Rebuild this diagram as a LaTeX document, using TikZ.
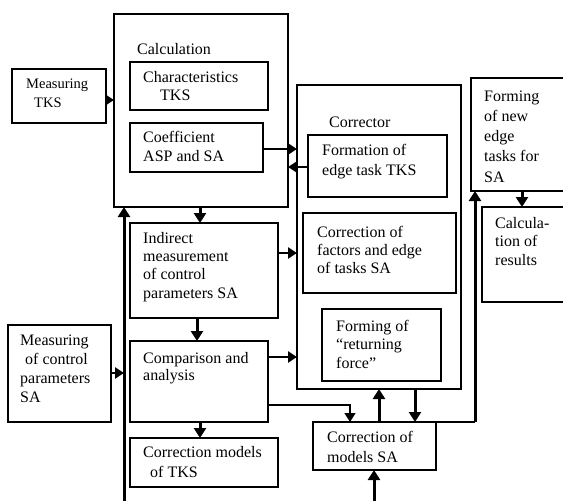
\documentclass[tikz,border=0pt]{standalone}
\usepackage{fontspec}
\setmainfont{Liberation Serif}
\usetikzlibrary{arrows.meta}
\begin{document}
\begin{tikzpicture}[x=1pt,y=-1pt,
  box/.style={draw=black,line width=1.4pt,anchor=north west,inner sep=0pt,outer sep=0pt},
  txt/.style={anchor=base west,inner sep=0pt,align=left,font=\fontsize{16}{18.5}\selectfont},
  arrh/.style={line width=2.8pt,-{Triangle[width=11pt,length=9pt]}},
  arrv/.style={line width=3pt,-{Triangle[width=12pt,length=10pt]}},
  arrt/.style={line width=1.4pt,-{Triangle[width=11pt,length=9pt]}},
  plain/.style={line width=1.4pt}]
\clip (0,0) rectangle (563,501);
\fill[white] (0,0) rectangle (563,501);
% boxes
\node[box,minimum width=94pt,minimum height=54pt] (mtks) at (12,69) {};
\node[box,minimum width=174pt,minimum height=193pt] (calc) at (114,14) {};
\node[box,minimum width=138pt,minimum height=48pt] (chr) at (130,62) {};
\node[box,minimum width=133pt,minimum height=49pt] (coef) at (130,123) {};
\node[box,minimum width=164pt,minimum height=304pt] (corr) at (297,85) {};
\node[box,minimum width=139pt,minimum height=62pt] (form) at (308,135) {};
\node[box,minimum width=153pt,minimum height=80pt] (cfac) at (303,213) {};
\node[box,minimum width=119pt,minimum height=72pt] (ret) at (322,309) {};
\node[box,minimum width=100pt,minimum height=113pt] (fnew) at (471,78) {};
\node[box,minimum width=90pt,minimum height=95pt] (cres) at (482,207) {};
\node[box,minimum width=148pt,minimum height=95pt] (ind) at (130,223) {};
\node[box,minimum width=138pt,minimum height=81pt] (cmp) at (130,341) {};
\node[box,minimum width=148pt,minimum height=49pt] (ctks) at (130,438) {};
\node[box,minimum width=103pt,minimum height=97pt] (mcp) at (8,325) {};
\node[box,minimum width=123pt,minimum height=48pt] (cms) at (313,422) {};
% texts (base = baseline of the last line)
\node[txt,font=\fontsize{14.5}{19}\selectfont] (tmtks) at (26,107) {Measuring\\\hspace*{8pt}TKS};
\node[txt] (tcalc) at (137,54) {Calculation};
\node[txt] (tchr) at (143,100.5) {Characteristics\\\hspace*{17pt}TKS};
\node[txt,font=\fontsize{16}{19}\selectfont] (tcoef) at (143,161) {Coefficient\\ASP and SA};
\node[txt] (tcorr) at (329,127) {Corrector};
\node[txt,font=\fontsize{16}{20}\selectfont] (tform) at (322,175) {Formation of\\edge task TKS};
\node[txt,font=\fontsize{16}{20.2}\selectfont] (tfnew) at (484,182) {Forming\\of new\\edge\\tasks for\\SA};
\node[txt] (tcres) at (495,265) {Calcula-\\tion of\\results};
\node[txt,font=\fontsize{16}{18.3}\selectfont] (tind) at (143,298) {Indirect\\measurement\\of control\\parameters SA};
\node[txt,font=\fontsize{16}{18}\selectfont] (tcfac) at (317,273) {Correction of\\factors and edge\\of tasks SA};
\node[txt] (tret) at (336,368) {Forming of\\“returning\\force”};
\node[txt,font=\fontsize{16}{19}\selectfont] (tmcp) at (20,402) {Measuring\\\hspace*{5pt}of control\\parameters\\SA};
\node[txt,font=\fontsize{16}{17.5}\selectfont] (tcmp) at (143,380.5) {Comparison and\\analysis};
\node[txt,font=\fontsize{16}{20}\selectfont] (tctks) at (143,477) {Correction models\\\hspace*{7pt}of TKS};
\node[txt,font=\fontsize{16}{20}\selectfont] (tcms) at (327,462) {Correction of\\models SA};
% connectors
\coordinate (busbot) at (124,501);
\coordinate (cmsbot) at (374,501);
\coordinate (bend) at (475,422);
\draw[arrh] (mtks.east |- 0,100) -- (calc.west |- 0,100);
\draw[arrh] (coef.east |- 0,149) -- (corr.west |- 0,149);
\draw[arrh] (form.west |- 0,167) -- (calc.east |- 0,167);
\draw[arrv] (calc.south -| 200,0) -- (ind.north -| 200,0);
\draw[arrv] (busbot) -- (busbot |- calc.south);
\draw[arrh] (mcp.east |- 0,373) -- (busbot |- 0,373);
\draw[arrh] (ind.east |- 0,253) -- (corr.west |- 0,253);
\draw[arrv] (ind.south -| 197,0) -- (cmp.north -| 197,0);
\draw[arrh] (cmp.east |- 0,357) -- (corr.west |- 0,357);
\draw[arrv] (cmp.south -| 200,0) -- (ctks.north -| 200,0);
\draw[arrt] (cmp.east |- 0,405) -| (cms.north -| 350,0);
\draw[arrv] (cms.north -| 379,0) -- (corr.south -| 379,0);
\draw[arrv] (corr.south -| 415,0) -- (cms.north -| 415,0);
\draw[arrv] (cmsbot) -- (cmsbot |- cms.south);
\draw[plain] (cms.north east) -- (bend);
\draw[arrv] (bend) -- (bend |- fnew.south);
\draw[arrv] (fnew.south -| 522,0) -- (cres.north -| 522,0);
\end{tikzpicture}
\end{document}
